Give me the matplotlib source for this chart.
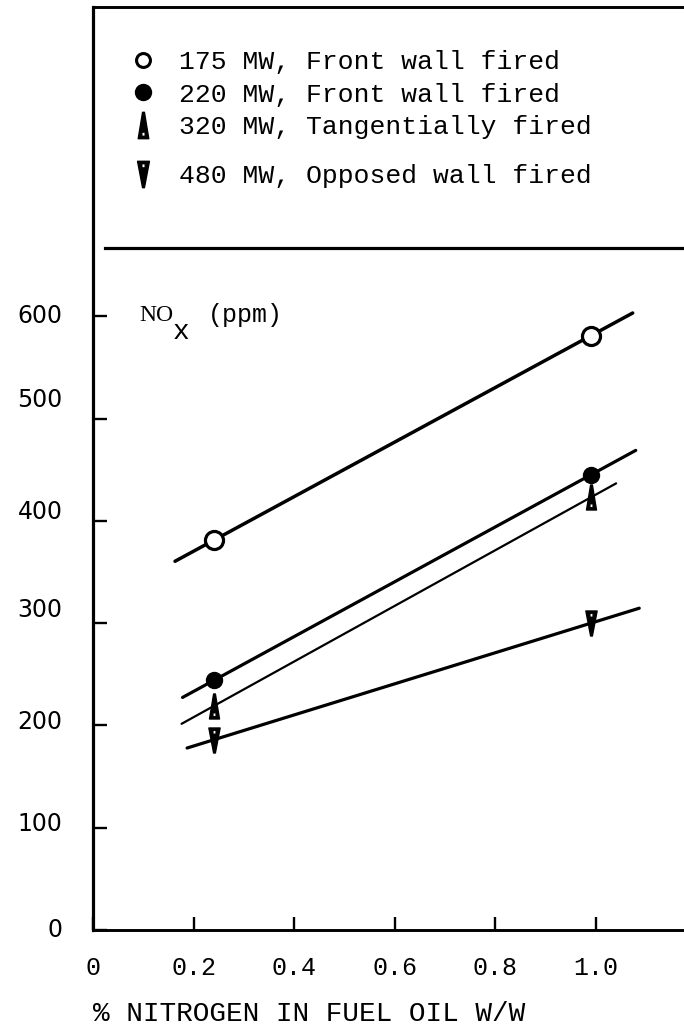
import numpy as np
import matplotlib.pyplot as plt
from matplotlib.lines import Line2D
from matplotlib.path import Path

# NOx emissions against nitrogen content of the fuel oil, four boilers
units = ["175 MW, Front wall fired", "220 MW, Front wall fired",
         "320 MW, Tangentially fired", "480 MW, Opposed wall fired"]
nitrogen = [0.24, 0.99]
nox_175 = [381, 581]
nox_220 = [244, 445]
nox_320 = [219, 423]
nox_480 = [186, 300]
# x range covered by each fitted line
fit_175 = [0.163, 1.073]
fit_220 = [0.178, 1.079]
fit_320 = [0.176, 1.040]
fit_480 = [0.187, 1.086]

x_ticks = [0, 0.2, 0.4, 0.6, 0.8, 1.0]
x_ticklabels = ["0", "0.2", "0.4", "0.6", "0.8", "1.0"]
y_ticks = [0, 100, 200, 300, 400, 500, 600]

MONO = "Liberation Mono"


def spike(head=0.3, up=True):
    # tall narrow triangle with a small hole near the wide end
    outer = [(-head, -1), (head, -1), (0.07, 1), (-0.07, 1), (0, 0)]
    hole = [(-0.13, -0.82), (-0.13, -0.5), (0.13, -0.5), (0.13, -0.82), (0, 0)]
    verts = np.array(outer + hole, float)
    codes = [Path.MOVETO] + [Path.LINETO] * 3 + [Path.CLOSEPOLY]
    if not up:
        verts[:, 1] *= -1
    return Path(verts, codes + codes)


tang = spike(0.4, up=True)
opposed = spike(0.45, up=False)

fig = plt.figure(figsize=(6.84, 10.30), dpi=100)
ax = fig.add_axes([0.136, 0.097, 0.864, 0.896])
ax.set_xlim(0, 1.175)
ax.set_ylim(0, 902)

series = [
    (nox_175, fit_175, 2.5, dict(marker="o", ms=13, mfc="white", mew=2.3)),
    (nox_220, fit_220, 2.3, dict(marker="o", ms=11.5)),
    (nox_320, fit_320, 1.6, dict(marker=tang, ms=18, mew=1.0)),
    (nox_480, fit_480, 2.3, dict(marker=opposed, ms=18, mew=1.0)),
]
for y, span, lw, mk in series:
    k, b = np.polyfit(nitrogen, y, 1)
    xs = np.array(span)
    ax.plot(xs, k * xs + b, color="k", lw=lw, solid_capstyle="round", zorder=2)
    ax.plot(nitrogen, y, ls="none", color="k", mec="k", zorder=3, **mk)

# key box above the plot
handles = [
    Line2D([], [], ls="none", color="k", marker="o", ms=10, mfc="white", mew=2.2),
    Line2D([], [], ls="none", color="k", marker="o", ms=11.5),
    Line2D([], [], ls="none", color="k", marker=tang, ms=19, mew=1.0),
    Line2D([], [], ls="none", color="k", marker=opposed, ms=19, mew=1.0),
]
leg_kw = dict(loc="upper left", bbox_transform=fig.transFigure, frameon=False,
              prop=dict(family=MONO, size=19), handlelength=1.0,
              handletextpad=0.85, labelspacing=0.31, borderpad=0,
              borderaxespad=0)
leg1 = ax.legend(handles[:3], units[:3], bbox_to_anchor=(0.19, 0.951), **leg_kw)
ax.add_artist(leg1)
ax.legend(handles[3:], units[3:], bbox_to_anchor=(0.19, 0.841), **leg_kw)
ax.axhline(667, xmin=0.02, color="k", lw=2.3)

ax.spines["right"].set_visible(False)
ax.spines["left"].set_linewidth(2.3)
ax.spines["bottom"].set_linewidth(2.1)
ax.spines["top"].set_linewidth(2.1)

ax.set_xticks(x_ticks, x_ticklabels, fontfamily=MONO, fontsize=18)
ax.set_yticks(y_ticks)
ax.tick_params(axis="x", direction="in", length=9.5, width=1.7, pad=19)
ax.tick_params(axis="y", direction="in", length=10, width=1.7, labelleft=False)

# typed y labels sit a little above some of their ticks
ylab_shift = [0, 4, 3, 13, 9, 19, 0]
for t, s in zip(y_ticks, ylab_shift):
    ax.annotate(str(t), xy=(0, t), xycoords=("axes fraction", "data"),
                xytext=(-22, s * 0.72), textcoords="offset points",
                ha="right", va="center", fontsize=17, family="DejaVu Sans")

ax.text(0.093, 601, "NO", fontsize=17, family="Liberation Serif", va="center")
ax.text(0.159, 585, "x", fontsize=20, family=MONO, va="center")
ax.text(0.229, 601, "(ppm)", fontsize=18, family=MONO, va="center")

ax.set_xlabel("% NITROGEN IN FUEL OIL W/W", loc="left", fontsize=20,
              family=MONO, labelpad=15)

fig.savefig("out.png", dpi=100, facecolor="white")
